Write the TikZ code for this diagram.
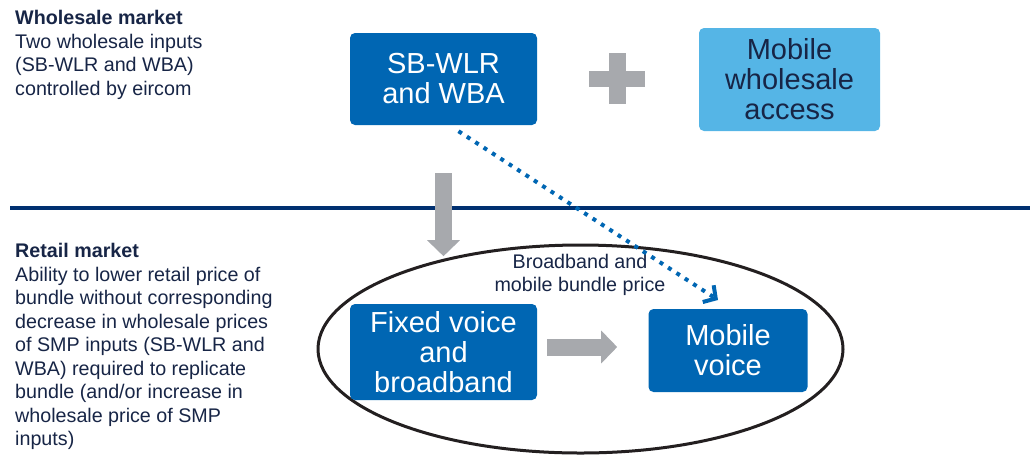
\documentclass[tikz,border=0pt]{standalone}
\usepackage{fontspec}
\setmainfont{Liberation Sans}
\usepackage{tikz}
\usetikzlibrary{arrows.meta,positioning,shapes.geometric,calc}
\definecolor{ink}{RGB}{23,37,70}
\definecolor{corpblue}{RGB}{0,102,179}
\definecolor{skyblue}{RGB}{85,181,230}
\definecolor{rulenavy}{RGB}{0,48,112}
\definecolor{arrowgrey}{RGB}{167,169,173}
\definecolor{ringgrey}{RGB}{35,31,32}

\begin{document}
\begin{tikzpicture}[x=1pt, y=-1pt,
  every node/.style={font=\fontsize{19.7}{23.5}\selectfont, text=ink, inner sep=0pt},
  prod/.style={fill=corpblue, rounded corners=5pt, text=white, align=center, font=\fontsize{29}{30}\selectfont},
  mobprod/.style={prod, fill=skyblue, text=ink},
  note/.style={align=left, anchor=north west},
  fat/.style={draw=arrowgrey, line width=17pt, -{Triangle[length=16pt,width=32pt]}},
  link/.style={draw=corpblue, line width=4pt, dash pattern=on 4pt off 6pt, -{Straight Barb[length=9pt,width=20pt]}}
]
\useasboundingbox (0,0) rectangle (1030,456);

% upstream inputs
\node[prod, minimum width=187pt, minimum height=92pt] (sbwlr) at (443.5,79) {SB-WLR\\and WBA};
\node[mobprod, minimum width=181pt, minimum height=103pt] (mwa) at (789.5,79.5) {Mobile\\wholesale\\access};
\fill[arrowgrey] (589,71) rectangle (645,86.5);
\fill[arrowgrey] (609,53) rectangle (626,104);

% wholesale / retail split
\draw[rulenavy, line width=4pt] (10,208) -- (1030,208);

% retail bundle
\node[draw=ringgrey, line width=3pt, ellipse, minimum width=525pt, minimum height=208pt] (retail) at (580.5,349) {};
\node[prod, minimum width=187pt, minimum height=96pt] (fixed) at (443.5,352) {Fixed voice\\and\\broadband};
\node[prod, minimum width=159pt, minimum height=83pt] (mvoice) at (728,350.5) {Mobile\\voice};
\node[align=center] (bundle) at (580,275) {Broadband and\\mobile bundle price};

\node[note] (wholesale) at (15,10.5) {\textbf{Wholesale market}\\Two wholesale inputs\\(SB-WLR and WBA)\\controlled by eircom};
\node[note] (retailtxt) at (15,243.5) {\textbf{Retail market}\\Ability to lower retail price of\\bundle without corresponding\\decrease in wholesale prices\\of SMP inputs (SB-WLR and\\WBA) required to replicate\\bundle (and/or increase in\\wholesale price of SMP\\inputs)};

\coordinate (bundletip) at (718,300);
\draw[fat] ([yshift=-48pt]sbwlr.south) -- ++(0,83);
\draw[fat] ([xshift=10pt,yshift=5pt]fixed.east) -- ++(70,0);
\draw[link] ([xshift=15pt,yshift=-6pt]sbwlr.south) -- (bundletip);
\end{tikzpicture}
\end{document}
